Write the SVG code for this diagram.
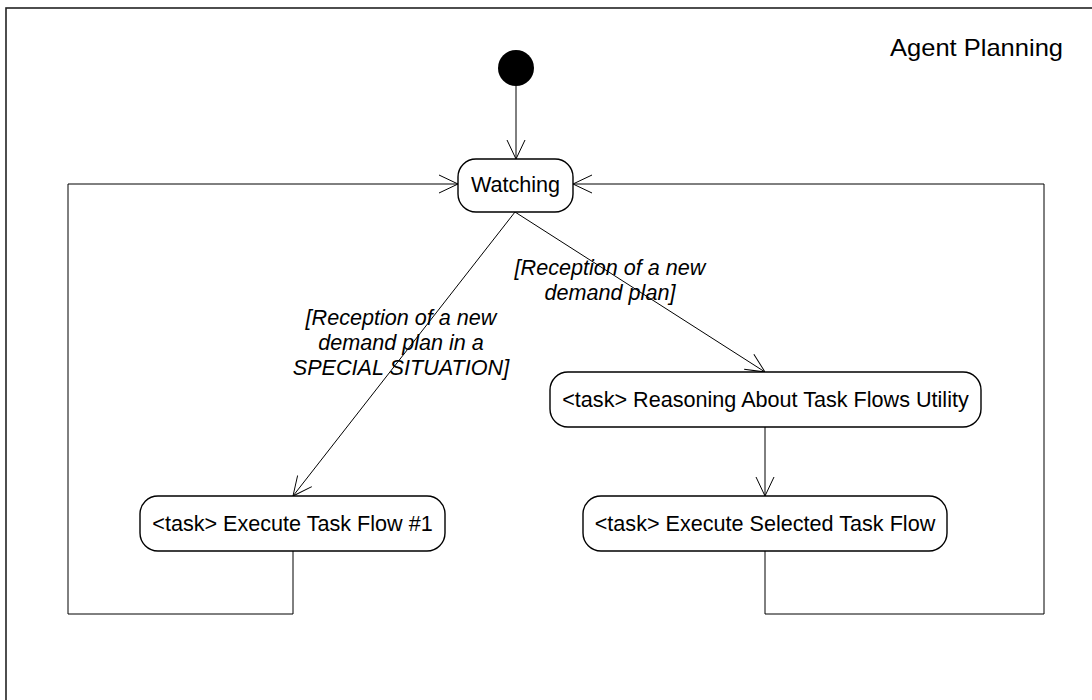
<svg xmlns="http://www.w3.org/2000/svg" width="1092" height="700" viewBox="0 0 1092 700">
<style>
.frame{fill:none;stroke:#222;stroke-width:1.6}
.node{fill:#fff;stroke:#000;stroke-width:1.4}
.t{font-family:"Liberation Sans",Arial,sans-serif;font-size:21.6px;fill:#000;text-anchor:middle}
.g{font-family:"Liberation Sans",Arial,sans-serif;font-size:21.6px;font-style:italic;fill:#000;text-anchor:middle}
.c{fill:none;stroke:#000;stroke-width:1}
</style>
<defs>
<marker id="arr" viewBox="0 0 20 20" refX="20" refY="10" markerWidth="20" markerHeight="20" markerUnits="userSpaceOnUse" orient="auto">
<path d="M1,1 L20,10 L1,19" fill="none" stroke="#000" stroke-width="1"/>
</marker>
</defs>
<rect width="1092" height="700" fill="#fff"/>
<g id="frame">
<rect class="frame" x="6" y="8" width="1100" height="710"/>
<text class="t" x="1063" y="56" style="text-anchor:end;font-size:24px" textLength="173" lengthAdjust="spacingAndGlyphs">Agent Planning</text>
</g>
<g id="connectors">
<line class="c" x1="516" y1="86" x2="516" y2="159" marker-end="url(#arr)"/>
<line class="c" x1="515" y1="212" x2="293" y2="496" marker-end="url(#arr)"/>
<line class="c" x1="515" y1="212" x2="765" y2="372" marker-end="url(#arr)"/>
<line class="c" x1="765" y1="427" x2="765" y2="496" marker-end="url(#arr)"/>
<polyline class="c" points="293,551 293,614 68,614 68,184 458,184" marker-end="url(#arr)"/>
<polyline class="c" points="765,551 765,614 1044,614 1044,184 573,184" marker-end="url(#arr)"/>
<g id="label-special">
<text class="g" x="401" y="325">[Reception of a new</text>
<text class="g" x="401" y="350">demand plan in a</text>
<text class="g" x="401" y="375">SPECIAL SITUATION]</text>
</g>
<g id="label-normal">
<text class="g" x="610" y="275">[Reception of a new</text>
<text class="g" x="610" y="300">demand plan]</text>
</g>
</g>
<g id="initial">
<circle cx="516" cy="68" r="18" fill="#000"/>
</g>
<g id="watching">
<rect class="node" x="458" y="159" width="115" height="53" rx="18"/>
<text class="t" x="515.5" y="192">Watching</text>
</g>
<g id="reasoning">
<rect class="node" x="550" y="372" width="431" height="55" rx="18"/>
<text class="t" x="765.5" y="407">&lt;task&gt; Reasoning About Task Flows Utility</text>
</g>
<g id="exec1">
<rect class="node" x="140" y="496" width="305" height="55" rx="18"/>
<text class="t" x="292.5" y="531">&lt;task&gt; Execute Task Flow #1</text>
</g>
<g id="execsel">
<rect class="node" x="583" y="496" width="364" height="55" rx="18"/>
<text class="t" x="765" y="531">&lt;task&gt; Execute Selected Task Flow</text>
</g>
</svg>
